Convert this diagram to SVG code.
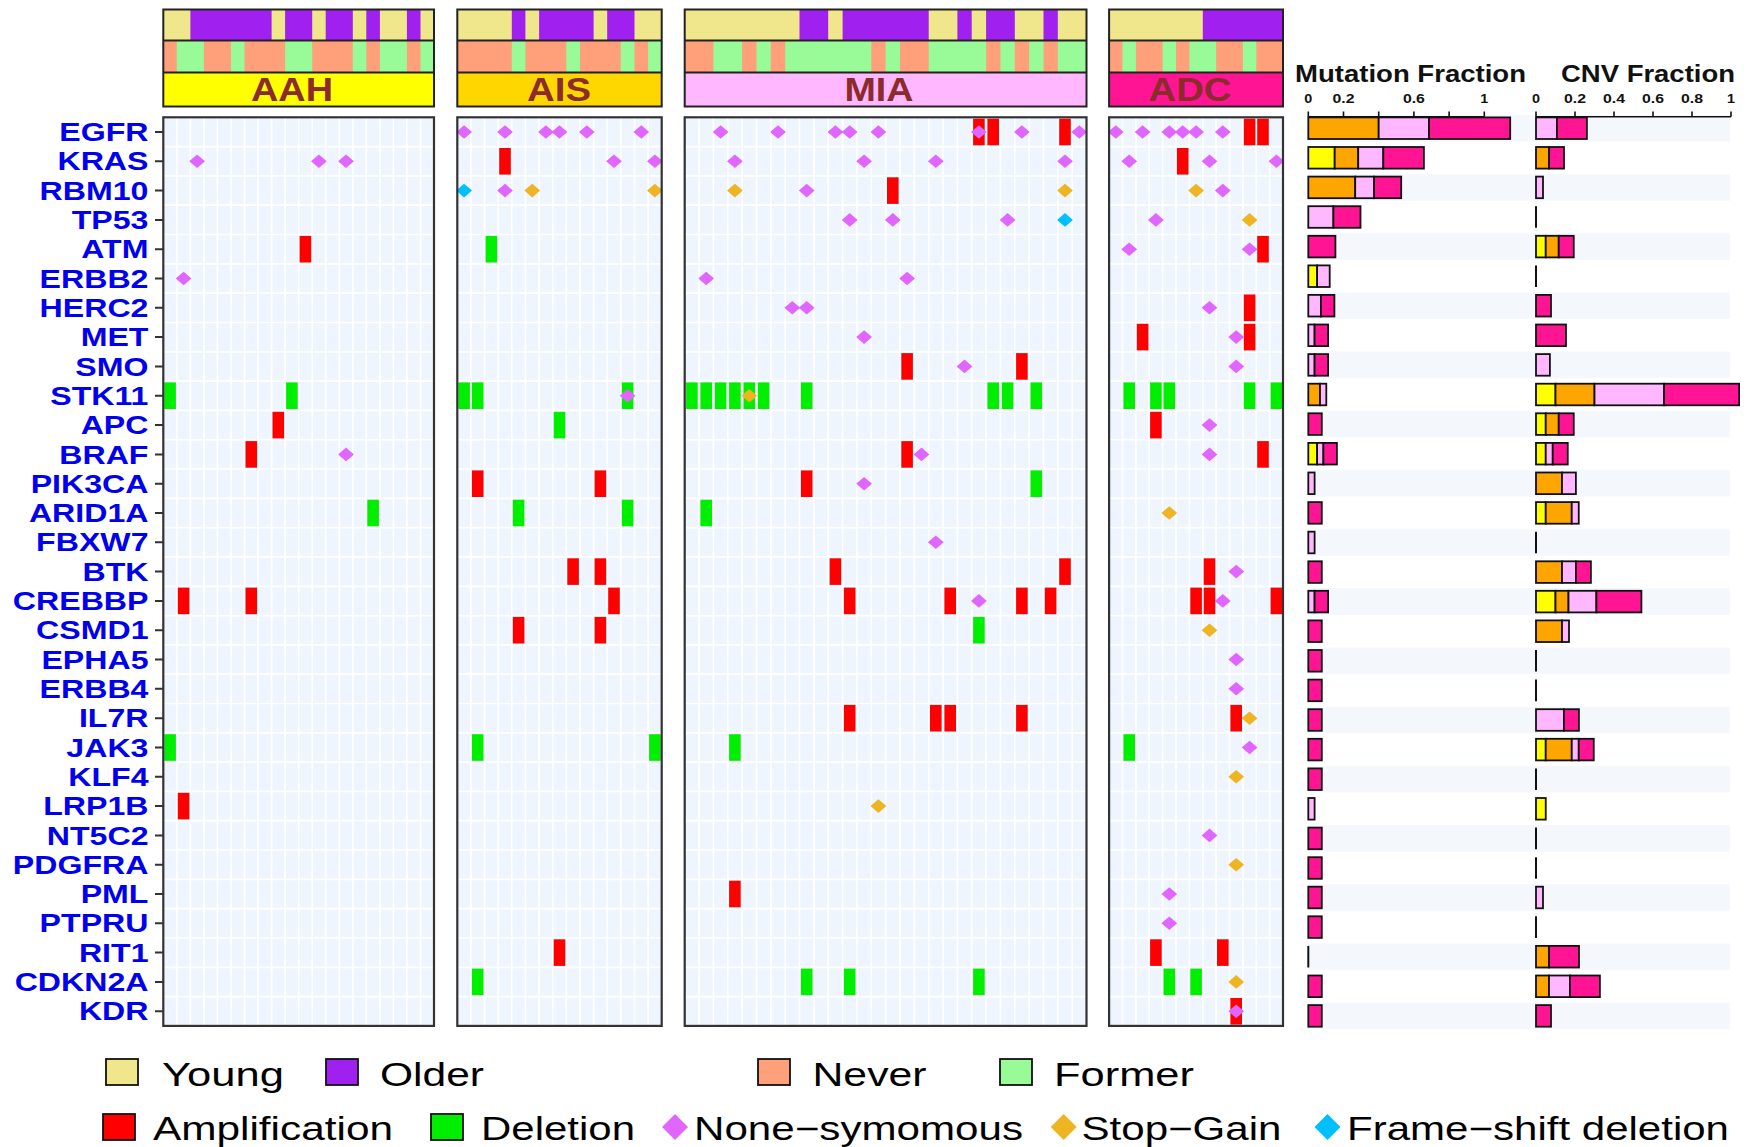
<svg xmlns="http://www.w3.org/2000/svg" xmlns:xlink="http://www.w3.org/1999/xlink" width="1750" height="1147" viewBox="0 0 1750 1147">
<style>
text{font-family:"Liberation Sans",Arial,sans-serif}
.young{fill:#F0E68C}.older{fill:#A020F0}.never{fill:#FFA07A}.former{fill:#98FB98}
.amp{fill:#FF0000}.del{fill:#00EE00}.ns{fill:#E066FF}.sg{fill:#EEB422}.fs{fill:#00BFFF}
.yl{fill:#FFFF00}.or{fill:#FFA500}.pk{fill:#FFB8FF}.dp{fill:#FF1493}
.outline{fill:none;stroke:#222;stroke-width:2}
.sep{fill:none;stroke:#222;stroke-width:2}
.plbl{font-size:32.5px;font-weight:bold;fill:#8B2B2B;text-anchor:middle}
.cellbg{fill:#EEF5FE}
.grid{fill:none;stroke:#FFFFFF;stroke-width:1.7}
.pborder{fill:none;stroke:#333;stroke-width:2.2}
.gene{font-size:25.5px;font-weight:bold;fill:#0000EE;text-anchor:end}
.bars rect{stroke:#111;stroke-width:1.8}
.band{fill:#F4F8FD;stroke:none}
.zero{stroke:#111;stroke-width:2}
.axis{fill:none;stroke:#111;stroke-width:1.6}
.tick{font-size:12.5px;font-weight:bold;fill:#111;text-anchor:middle}
.title{font-size:23.5px;font-weight:bold;fill:#111}
.leg{font-size:33px;fill:#000}
.lbox{stroke:#111;stroke-width:1.8}
</style>
<defs>
<rect id="c" x="-5.8" y="-13.3" width="11.6" height="26.6"/>
<polygon id="d" points="0,-6.8 7.9,0 0,6.8 -7.9,0"/>
</defs>
<rect x="0" y="0" width="1750" height="1147" fill="#FFFFFF"/>

<g id="header-AAH">
<rect x="163.3" y="9.5" width="270.7" height="31" class="young"/>
<rect x="190.4" y="9.5" width="81.2" height="31" class="older"/>
<rect x="285.1" y="9.5" width="27.1" height="31" class="older"/>
<rect x="325.7" y="9.5" width="27.1" height="31" class="older"/>
<rect x="366.3" y="9.5" width="13.6" height="31" class="older"/>
<rect x="406.9" y="9.5" width="13.6" height="31" class="older"/>
<rect x="163.3" y="40.5" width="270.7" height="32" class="never"/>
<rect x="176.8" y="40.5" width="27.1" height="32" class="former"/>
<rect x="231.0" y="40.5" width="13.5" height="32" class="former"/>
<rect x="285.1" y="40.5" width="27.1" height="32" class="former"/>
<rect x="352.8" y="40.5" width="13.5" height="32" class="former"/>
<rect x="379.9" y="40.5" width="27.0" height="32" class="former"/>
<rect x="420.5" y="40.5" width="13.5" height="32" class="former"/>
<rect x="163.3" y="72.5" width="270.7" height="34" fill="#FFFF00"/>
<text x="292" y="101" class="plbl" textLength="82" lengthAdjust="spacingAndGlyphs">AAH</text>
<rect x="163.3" y="9.5" width="270.7" height="97" class="outline"/>
<path d="M163.3 40.5H434M163.3 72.5H434" class="sep"/>
</g>
<g id="header-AIS">
<rect x="457.3" y="9.5" width="204.4" height="31" class="young"/>
<rect x="511.8" y="9.5" width="13.6" height="31" class="older"/>
<rect x="539.1" y="9.5" width="54.5" height="31" class="older"/>
<rect x="607.2" y="9.5" width="27.3" height="31" class="older"/>
<rect x="457.3" y="40.5" width="204.4" height="32" class="never"/>
<rect x="511.8" y="40.5" width="13.6" height="32" class="former"/>
<rect x="566.3" y="40.5" width="13.7" height="32" class="former"/>
<rect x="620.8" y="40.5" width="13.7" height="32" class="former"/>
<rect x="648.1" y="40.5" width="13.6" height="32" class="former"/>
<rect x="457.3" y="72.5" width="204.4" height="34" fill="#FFD700"/>
<text x="559" y="101" class="plbl" textLength="64" lengthAdjust="spacingAndGlyphs">AIS</text>
<rect x="457.3" y="9.5" width="204.4" height="97" class="outline"/>
<path d="M457.3 40.5H661.7M457.3 72.5H661.7" class="sep"/>
</g>
<g id="header-MIA">
<rect x="684.7" y="9.5" width="401.8" height="31" class="young"/>
<rect x="799.5" y="9.5" width="28.7" height="31" class="older"/>
<rect x="842.6" y="9.5" width="86.1" height="31" class="older"/>
<rect x="957.4" y="9.5" width="14.3" height="31" class="older"/>
<rect x="986.1" y="9.5" width="28.7" height="31" class="older"/>
<rect x="1043.5" y="9.5" width="14.3" height="31" class="older"/>
<rect x="684.7" y="40.5" width="401.8" height="32" class="never"/>
<rect x="713.4" y="40.5" width="28.7" height="32" class="former"/>
<rect x="756.5" y="40.5" width="14.3" height="32" class="former"/>
<rect x="785.2" y="40.5" width="86.1" height="32" class="former"/>
<rect x="885.6" y="40.5" width="14.4" height="32" class="former"/>
<rect x="928.7" y="40.5" width="57.4" height="32" class="former"/>
<rect x="1000.4" y="40.5" width="14.4" height="32" class="former"/>
<rect x="1029.1" y="40.5" width="14.4" height="32" class="former"/>
<rect x="1057.8" y="40.5" width="28.7" height="32" class="former"/>
<rect x="684.7" y="72.5" width="401.8" height="34" fill="#FFB8FF"/>
<text x="879" y="101" class="plbl" textLength="69" lengthAdjust="spacingAndGlyphs">MIA</text>
<rect x="684.7" y="9.5" width="401.8" height="97" class="outline"/>
<path d="M684.7 40.5H1086.5M684.7 72.5H1086.5" class="sep"/>
</g>
<g id="header-ADC">
<rect x="1109.1" y="9.5" width="173.9" height="31" class="young"/>
<rect x="1202.8" y="9.5" width="80.2" height="31" class="older"/>
<rect x="1109.1" y="40.5" width="173.9" height="32" class="never"/>
<rect x="1122.5" y="40.5" width="13.4" height="32" class="former"/>
<rect x="1162.6" y="40.5" width="13.4" height="32" class="former"/>
<rect x="1189.4" y="40.5" width="26.7" height="32" class="former"/>
<rect x="1242.9" y="40.5" width="13.4" height="32" class="former"/>
<rect x="1109.1" y="72.5" width="173.9" height="34" fill="#FF1493"/>
<text x="1190" y="101" class="plbl" textLength="83" lengthAdjust="spacingAndGlyphs">ADC</text>
<rect x="1109.1" y="9.5" width="173.9" height="97" class="outline"/>
<path d="M1109.1 40.5H1283M1109.1 72.5H1283" class="sep"/>
</g>

<g id="grid">
<rect x="163.3" y="117.3" width="270.7" height="908.6" class="cellbg"/>
<rect x="457.3" y="117.3" width="204.4" height="908.6" class="cellbg"/>
<rect x="684.7" y="117.3" width="401.8" height="908.6" class="cellbg"/>
<rect x="1109.1" y="117.3" width="173.9" height="908.6" class="cellbg"/>
<path class="grid" d="M176.8 117.3v908.6M190.4 117.3v908.6M203.9 117.3v908.6M217.4 117.3v908.6M231 117.3v908.6M244.5 117.3v908.6M258 117.3v908.6M271.6 117.3v908.6M285.1 117.3v908.6M298.7 117.3v908.6M312.2 117.3v908.6M325.7 117.3v908.6M339.3 117.3v908.6M352.8 117.3v908.6M366.3 117.3v908.6M379.9 117.3v908.6M393.4 117.3v908.6M406.9 117.3v908.6M420.5 117.3v908.6
M470.9 117.3v908.6M484.5 117.3v908.6M498.2 117.3v908.6M511.8 117.3v908.6M525.4 117.3v908.6M539.1 117.3v908.6M552.7 117.3v908.6M566.3 117.3v908.6M580 117.3v908.6M593.6 117.3v908.6M607.2 117.3v908.6M620.8 117.3v908.6M634.5 117.3v908.6M648.1 117.3v908.6
M699.1 117.3v908.6M713.4 117.3v908.6M727.8 117.3v908.6M742.1 117.3v908.6M756.5 117.3v908.6M770.8 117.3v908.6M785.2 117.3v908.6M799.5 117.3v908.6M813.9 117.3v908.6M828.2 117.3v908.6M842.6 117.3v908.6M856.9 117.3v908.6M871.3 117.3v908.6M885.6 117.3v908.6M900 117.3v908.6M914.3 117.3v908.6M928.7 117.3v908.6M943 117.3v908.6M957.4 117.3v908.6M971.7 117.3v908.6M986.1 117.3v908.6M1000.4 117.3v908.6M1014.8 117.3v908.6M1029.1 117.3v908.6M1043.5 117.3v908.6M1057.8 117.3v908.6M1072.2 117.3v908.6
M1122.5 117.3v908.6M1135.9 117.3v908.6M1149.2 117.3v908.6M1162.6 117.3v908.6M1176 117.3v908.6M1189.4 117.3v908.6M1202.8 117.3v908.6M1216.1 117.3v908.6M1229.5 117.3v908.6M1242.9 117.3v908.6M1256.3 117.3v908.6M1269.7 117.3v908.6
M163.3 146.6H1283M163.3 175.9H1283M163.3 205.2H1283M163.3 234.5H1283M163.3 263.9H1283M163.3 293.2H1283M163.3 322.5H1283M163.3 351.8H1283M163.3 381.1H1283M163.3 410.4H1283M163.3 439.7H1283M163.3 469H1283M163.3 498.3H1283M163.3 527.6H1283M163.3 556.9H1283M163.3 586.3H1283M163.3 615.6H1283M163.3 644.9H1283M163.3 674.2H1283M163.3 703.5H1283M163.3 732.8H1283M163.3 762.1H1283M163.3 791.4H1283M163.3 820.7H1283M163.3 850H1283M163.3 879.4H1283M163.3 908.7H1283M163.3 938H1283M163.3 967.3H1283M163.3 996.6H1283"/>
</g>

<g id="panel-AAH">
<use href="#c" x="305.4" y="249.2" class="amp"/>
<use href="#c" x="170.1" y="395.7" class="del"/>
<use href="#c" x="291.9" y="395.7" class="del"/>
<use href="#c" x="278.3" y="425.1" class="amp"/>
<use href="#c" x="251.3" y="454.4" class="amp"/>
<use href="#c" x="373.1" y="513.0" class="del"/>
<use href="#c" x="183.6" y="600.9" class="amp"/>
<use href="#c" x="251.3" y="600.9" class="amp"/>
<use href="#c" x="170.1" y="747.5" class="del"/>
<use href="#c" x="183.6" y="806.1" class="amp"/>
<use href="#d" x="197.1" y="161.3" class="ns"/>
<use href="#d" x="318.9" y="161.3" class="ns"/>
<use href="#d" x="346.0" y="161.3" class="ns"/>
<use href="#d" x="183.6" y="278.5" class="ns"/>
<use href="#d" x="346.0" y="454.4" class="ns"/>
<rect x="163.3" y="117.3" width="270.7" height="908.6" class="pborder"/>
</g>

<g id="panel-AIS">
<use href="#c" x="505.0" y="161.3" class="amp"/>
<use href="#c" x="491.4" y="249.2" class="del"/>
<use href="#c" x="464.1" y="395.7" class="del"/>
<use href="#c" x="477.7" y="395.7" class="del"/>
<use href="#c" x="627.6" y="395.7" class="del"/>
<use href="#c" x="559.5" y="425.1" class="del"/>
<use href="#c" x="477.7" y="483.7" class="amp"/>
<use href="#c" x="600.4" y="483.7" class="amp"/>
<use href="#c" x="518.6" y="513.0" class="del"/>
<use href="#c" x="627.6" y="513.0" class="del"/>
<use href="#c" x="573.1" y="571.6" class="amp"/>
<use href="#c" x="600.4" y="571.6" class="amp"/>
<use href="#c" x="614.0" y="600.9" class="amp"/>
<use href="#c" x="518.6" y="630.2" class="amp"/>
<use href="#c" x="600.4" y="630.2" class="amp"/>
<use href="#c" x="477.7" y="747.5" class="del"/>
<use href="#c" x="654.9" y="747.5" class="del"/>
<use href="#c" x="559.5" y="952.6" class="amp"/>
<use href="#c" x="477.7" y="981.9" class="del"/>
<use href="#d" x="464.1" y="132.0" class="ns"/>
<use href="#d" x="505.0" y="132.0" class="ns"/>
<use href="#d" x="545.9" y="132.0" class="ns"/>
<use href="#d" x="559.5" y="132.0" class="ns"/>
<use href="#d" x="586.8" y="132.0" class="ns"/>
<use href="#d" x="641.3" y="132.0" class="ns"/>
<use href="#d" x="614.0" y="161.3" class="ns"/>
<use href="#d" x="654.9" y="161.3" class="ns"/>
<use href="#d" x="464.1" y="190.6" class="fs"/>
<use href="#d" x="505.0" y="190.6" class="ns"/>
<use href="#d" x="532.2" y="190.6" class="sg"/>
<use href="#d" x="654.9" y="190.6" class="sg"/>
<use href="#d" x="627.6" y="395.7" class="ns"/>
<rect x="457.3" y="117.3" width="204.4" height="908.6" class="pborder"/>
</g>

<g id="panel-MIA">
<use href="#c" x="978.9" y="132.0" class="amp"/>
<use href="#c" x="993.2" y="132.0" class="amp"/>
<use href="#c" x="1065.0" y="132.0" class="amp"/>
<use href="#c" x="892.8" y="190.6" class="amp"/>
<use href="#c" x="907.1" y="366.4" class="amp"/>
<use href="#c" x="1021.9" y="366.4" class="amp"/>
<use href="#c" x="691.9" y="395.7" class="del"/>
<use href="#c" x="706.2" y="395.7" class="del"/>
<use href="#c" x="720.6" y="395.7" class="del"/>
<use href="#c" x="734.9" y="395.7" class="del"/>
<use href="#c" x="749.3" y="395.7" class="del"/>
<use href="#c" x="763.6" y="395.7" class="del"/>
<use href="#c" x="806.7" y="395.7" class="del"/>
<use href="#c" x="993.2" y="395.7" class="del"/>
<use href="#c" x="1007.6" y="395.7" class="del"/>
<use href="#c" x="1036.3" y="395.7" class="del"/>
<use href="#c" x="907.1" y="454.4" class="amp"/>
<use href="#c" x="806.7" y="483.7" class="amp"/>
<use href="#c" x="1036.3" y="483.7" class="del"/>
<use href="#c" x="706.2" y="513.0" class="del"/>
<use href="#c" x="835.4" y="571.6" class="amp"/>
<use href="#c" x="1065.0" y="571.6" class="amp"/>
<use href="#c" x="849.7" y="600.9" class="amp"/>
<use href="#c" x="950.2" y="600.9" class="amp"/>
<use href="#c" x="1021.9" y="600.9" class="amp"/>
<use href="#c" x="1050.6" y="600.9" class="amp"/>
<use href="#c" x="978.9" y="630.2" class="del"/>
<use href="#c" x="849.7" y="718.2" class="amp"/>
<use href="#c" x="935.8" y="718.2" class="amp"/>
<use href="#c" x="950.2" y="718.2" class="amp"/>
<use href="#c" x="1021.9" y="718.2" class="amp"/>
<use href="#c" x="734.9" y="747.5" class="del"/>
<use href="#c" x="734.9" y="894.0" class="amp"/>
<use href="#c" x="806.7" y="981.9" class="del"/>
<use href="#c" x="849.7" y="981.9" class="del"/>
<use href="#c" x="978.9" y="981.9" class="del"/>
<use href="#d" x="720.6" y="132.0" class="ns"/>
<use href="#d" x="778.0" y="132.0" class="ns"/>
<use href="#d" x="835.4" y="132.0" class="ns"/>
<use href="#d" x="849.7" y="132.0" class="ns"/>
<use href="#d" x="878.4" y="132.0" class="ns"/>
<use href="#d" x="978.9" y="132.0" class="ns"/>
<use href="#d" x="1021.9" y="132.0" class="ns"/>
<use href="#d" x="1079.3" y="132.0" class="ns"/>
<use href="#d" x="734.9" y="161.3" class="ns"/>
<use href="#d" x="864.1" y="161.3" class="ns"/>
<use href="#d" x="935.8" y="161.3" class="ns"/>
<use href="#d" x="1065.0" y="161.3" class="ns"/>
<use href="#d" x="734.9" y="190.6" class="sg"/>
<use href="#d" x="806.7" y="190.6" class="ns"/>
<use href="#d" x="1065.0" y="190.6" class="sg"/>
<use href="#d" x="849.7" y="219.9" class="ns"/>
<use href="#d" x="892.8" y="219.9" class="ns"/>
<use href="#d" x="1007.6" y="219.9" class="ns"/>
<use href="#d" x="1065.0" y="219.9" class="fs"/>
<use href="#d" x="706.2" y="278.5" class="ns"/>
<use href="#d" x="907.1" y="278.5" class="ns"/>
<use href="#d" x="792.3" y="307.8" class="ns"/>
<use href="#d" x="806.7" y="307.8" class="ns"/>
<use href="#d" x="864.1" y="337.1" class="ns"/>
<use href="#d" x="964.5" y="366.4" class="ns"/>
<use href="#d" x="749.3" y="395.7" class="sg"/>
<use href="#d" x="921.5" y="454.4" class="ns"/>
<use href="#d" x="864.1" y="483.7" class="ns"/>
<use href="#d" x="935.8" y="542.3" class="ns"/>
<use href="#d" x="978.9" y="600.9" class="ns"/>
<use href="#d" x="878.4" y="806.1" class="sg"/>
<rect x="684.7" y="117.3" width="401.8" height="908.6" class="pborder"/>
</g>

<g id="panel-ADC">
<use href="#c" x="1249.6" y="132.0" class="amp"/>
<use href="#c" x="1263.0" y="132.0" class="amp"/>
<use href="#c" x="1182.7" y="161.3" class="amp"/>
<use href="#c" x="1263.0" y="249.2" class="amp"/>
<use href="#c" x="1249.6" y="307.8" class="amp"/>
<use href="#c" x="1142.6" y="337.1" class="amp"/>
<use href="#c" x="1249.6" y="337.1" class="amp"/>
<use href="#c" x="1129.2" y="395.7" class="del"/>
<use href="#c" x="1155.9" y="395.7" class="del"/>
<use href="#c" x="1169.3" y="395.7" class="del"/>
<use href="#c" x="1249.6" y="395.7" class="del"/>
<use href="#c" x="1276.4" y="395.7" class="del"/>
<use href="#c" x="1155.9" y="425.1" class="amp"/>
<use href="#c" x="1263.0" y="454.4" class="amp"/>
<use href="#c" x="1209.5" y="571.6" class="amp"/>
<use href="#c" x="1196.1" y="600.9" class="amp"/>
<use href="#c" x="1209.5" y="600.9" class="amp"/>
<use href="#c" x="1276.4" y="600.9" class="amp"/>
<use href="#c" x="1236.2" y="718.2" class="amp"/>
<use href="#c" x="1129.2" y="747.5" class="del"/>
<use href="#c" x="1155.9" y="952.6" class="amp"/>
<use href="#c" x="1222.8" y="952.6" class="amp"/>
<use href="#c" x="1169.3" y="981.9" class="del"/>
<use href="#c" x="1196.1" y="981.9" class="del"/>
<use href="#c" x="1236.2" y="1011.3" class="amp"/>
<use href="#d" x="1115.8" y="132.0" class="ns"/>
<use href="#d" x="1142.6" y="132.0" class="ns"/>
<use href="#d" x="1169.3" y="132.0" class="ns"/>
<use href="#d" x="1182.7" y="132.0" class="ns"/>
<use href="#d" x="1196.1" y="132.0" class="ns"/>
<use href="#d" x="1222.8" y="132.0" class="ns"/>
<use href="#d" x="1129.2" y="161.3" class="ns"/>
<use href="#d" x="1209.5" y="161.3" class="ns"/>
<use href="#d" x="1276.4" y="161.3" class="ns"/>
<use href="#d" x="1196.1" y="190.6" class="sg"/>
<use href="#d" x="1222.8" y="190.6" class="ns"/>
<use href="#d" x="1155.9" y="219.9" class="ns"/>
<use href="#d" x="1249.6" y="219.9" class="sg"/>
<use href="#d" x="1129.2" y="249.2" class="ns"/>
<use href="#d" x="1249.6" y="249.2" class="ns"/>
<use href="#d" x="1209.5" y="307.8" class="ns"/>
<use href="#d" x="1236.2" y="337.1" class="ns"/>
<use href="#d" x="1236.2" y="366.4" class="ns"/>
<use href="#d" x="1209.5" y="425.1" class="ns"/>
<use href="#d" x="1209.5" y="454.4" class="ns"/>
<use href="#d" x="1169.3" y="513.0" class="sg"/>
<use href="#d" x="1236.2" y="571.6" class="ns"/>
<use href="#d" x="1222.8" y="600.9" class="ns"/>
<use href="#d" x="1209.5" y="630.2" class="sg"/>
<use href="#d" x="1236.2" y="659.5" class="ns"/>
<use href="#d" x="1236.2" y="688.8" class="ns"/>
<use href="#d" x="1249.6" y="718.2" class="sg"/>
<use href="#d" x="1249.6" y="747.5" class="ns"/>
<use href="#d" x="1236.2" y="776.8" class="sg"/>
<use href="#d" x="1209.5" y="835.4" class="ns"/>
<use href="#d" x="1236.2" y="864.7" class="sg"/>
<use href="#d" x="1169.3" y="894.0" class="ns"/>
<use href="#d" x="1169.3" y="923.3" class="ns"/>
<use href="#d" x="1236.2" y="981.9" class="sg"/>
<use href="#d" x="1236.2" y="1011.3" class="ns"/>
<rect x="1109.1" y="117.3" width="173.9" height="908.6" class="pborder"/>
</g>

<g id="genes">
<path stroke="#333" stroke-width="2" d="M155 132H163.3M155 161.3H163.3M155 190.6H163.3M155 219.9H163.3M155 249.2H163.3M155 278.5H163.3M155 307.8H163.3M155 337.1H163.3M155 366.4H163.3M155 395.7H163.3M155 425.1H163.3M155 454.4H163.3M155 483.7H163.3M155 513H163.3M155 542.3H163.3M155 571.6H163.3M155 600.9H163.3M155 630.2H163.3M155 659.5H163.3M155 688.8H163.3M155 718.2H163.3M155 747.5H163.3M155 776.8H163.3M155 806.1H163.3M155 835.4H163.3M155 864.7H163.3M155 894H163.3M155 923.3H163.3M155 952.6H163.3M155 981.9H163.3M155 1011.3H163.3"/>
<g transform="translate(148.5,0) scale(1.26,1)">
<text x="0" y="141.2" class="gene">EGFR</text>
<text x="0" y="170.5" class="gene">KRAS</text>
<text x="0" y="199.8" class="gene">RBM10</text>
<text x="0" y="229.1" class="gene">TP53</text>
<text x="0" y="258.4" class="gene">ATM</text>
<text x="0" y="287.7" class="gene">ERBB2</text>
<text x="0" y="317.0" class="gene">HERC2</text>
<text x="0" y="346.3" class="gene">MET</text>
<text x="0" y="375.6" class="gene">SMO</text>
<text x="0" y="404.9" class="gene">STK11</text>
<text x="0" y="434.3" class="gene">APC</text>
<text x="0" y="463.6" class="gene">BRAF</text>
<text x="0" y="492.9" class="gene">PIK3CA</text>
<text x="0" y="522.2" class="gene">ARID1A</text>
<text x="0" y="551.5" class="gene">FBXW7</text>
<text x="0" y="580.8" class="gene">BTK</text>
<text x="0" y="610.1" class="gene">CREBBP</text>
<text x="0" y="639.4" class="gene">CSMD1</text>
<text x="0" y="668.7" class="gene">EPHA5</text>
<text x="0" y="698.0" class="gene">ERBB4</text>
<text x="0" y="727.4" class="gene">IL7R</text>
<text x="0" y="756.7" class="gene">JAK3</text>
<text x="0" y="786.0" class="gene">KLF4</text>
<text x="0" y="815.3" class="gene">LRP1B</text>
<text x="0" y="844.6" class="gene">NT5C2</text>
<text x="0" y="873.9" class="gene">PDGFRA</text>
<text x="0" y="903.2" class="gene">PML</text>
<text x="0" y="932.5" class="gene">PTPRU</text>
<text x="0" y="961.8" class="gene">RIT1</text>
<text x="0" y="991.1" class="gene">CDKN2A</text>
<text x="0" y="1020.5" class="gene">KDR</text>
</g>
</g>

<g id="bands">
<rect x="1308" y="114.9" width="422" height="26.6" class="band"/>
<rect x="1308" y="174.1" width="422" height="26.6" class="band"/>
<rect x="1308" y="233.3" width="422" height="26.6" class="band"/>
<rect x="1308" y="292.4" width="422" height="26.6" class="band"/>
<rect x="1308" y="351.6" width="422" height="26.6" class="band"/>
<rect x="1308" y="410.8" width="422" height="26.6" class="band"/>
<rect x="1308" y="470.0" width="422" height="26.6" class="band"/>
<rect x="1308" y="529.2" width="422" height="26.6" class="band"/>
<rect x="1308" y="588.3" width="422" height="26.6" class="band"/>
<rect x="1308" y="647.5" width="422" height="26.6" class="band"/>
<rect x="1308" y="706.7" width="422" height="26.6" class="band"/>
<rect x="1308" y="765.9" width="422" height="26.6" class="band"/>
<rect x="1308" y="825.1" width="422" height="26.6" class="band"/>
<rect x="1308" y="884.2" width="422" height="26.6" class="band"/>
<rect x="1308" y="943.4" width="422" height="26.6" class="band"/>
<rect x="1308" y="1002.6" width="422" height="26.6" class="band"/>
</g>

<g id="mutation-fraction">
<text x="1295" y="81.7" class="title" textLength="231" lengthAdjust="spacingAndGlyphs">Mutation Fraction</text>
<text x="1308.3" y="102.5" class="tick" textLength="8" lengthAdjust="spacingAndGlyphs">0</text>
<text x="1343.5" y="102.5" class="tick" textLength="22" lengthAdjust="spacingAndGlyphs">0.2</text>
<text x="1413.9" y="102.5" class="tick" textLength="22" lengthAdjust="spacingAndGlyphs">0.6</text>
<text x="1484.3" y="102.5" class="tick" textLength="8" lengthAdjust="spacingAndGlyphs">1</text>
<path class="axis" d="M1308.3 116.7H1484.3M1308.3 111.5V116.7M1343.5 111.5V116.7M1378.7 111.5V116.7M1413.9 111.5V116.7M1449.1 111.5V116.7M1484.3 111.5V116.7"/>
<g class="bars">
<rect x="1308.3" y="117.4" width="70.4" height="21.6" class="or"/><rect x="1378.7" y="117.4" width="50.3" height="21.6" class="pk"/><rect x="1429.0" y="117.4" width="81.2" height="21.6" class="dp"/>
<rect x="1308.3" y="147.0" width="26.4" height="21.6" class="yl"/><rect x="1334.7" y="147.0" width="23.5" height="21.6" class="or"/><rect x="1358.2" y="147.0" width="25.1" height="21.6" class="pk"/><rect x="1383.3" y="147.0" width="40.6" height="21.6" class="dp"/>
<rect x="1308.3" y="176.6" width="46.9" height="21.6" class="or"/><rect x="1355.2" y="176.6" width="18.9" height="21.6" class="pk"/><rect x="1374.1" y="176.6" width="27.1" height="21.6" class="dp"/>
<rect x="1308.3" y="206.2" width="25.1" height="21.6" class="pk"/><rect x="1333.4" y="206.2" width="27.1" height="21.6" class="dp"/>
<rect x="1308.3" y="235.8" width="27.1" height="21.6" class="dp"/>
<rect x="1308.3" y="265.4" width="8.8" height="21.6" class="yl"/><rect x="1317.1" y="265.4" width="12.6" height="21.6" class="pk"/>
<rect x="1308.3" y="294.9" width="12.6" height="21.6" class="pk"/><rect x="1320.9" y="294.9" width="13.5" height="21.6" class="dp"/>
<rect x="1308.3" y="324.5" width="6.3" height="21.6" class="pk"/><rect x="1314.6" y="324.5" width="13.5" height="21.6" class="dp"/>
<rect x="1308.3" y="354.1" width="6.3" height="21.6" class="pk"/><rect x="1314.6" y="354.1" width="13.5" height="21.6" class="dp"/>
<rect x="1308.3" y="383.7" width="11.7" height="21.6" class="or"/><rect x="1320.0" y="383.7" width="6.3" height="21.6" class="pk"/>
<rect x="1308.3" y="413.3" width="13.5" height="21.6" class="dp"/>
<rect x="1308.3" y="442.9" width="8.8" height="21.6" class="yl"/><rect x="1317.1" y="442.9" width="6.3" height="21.6" class="pk"/><rect x="1323.4" y="442.9" width="13.5" height="21.6" class="dp"/>
<rect x="1308.3" y="472.5" width="6.3" height="21.6" class="pk"/>
<rect x="1308.3" y="502.1" width="13.5" height="21.6" class="dp"/>
<rect x="1308.3" y="531.7" width="6.3" height="21.6" class="pk"/>
<rect x="1308.3" y="561.3" width="13.5" height="21.6" class="dp"/>
<rect x="1308.3" y="590.8" width="6.3" height="21.6" class="pk"/><rect x="1314.6" y="590.8" width="13.5" height="21.6" class="dp"/>
<rect x="1308.3" y="620.4" width="13.5" height="21.6" class="dp"/>
<rect x="1308.3" y="650.0" width="13.5" height="21.6" class="dp"/>
<rect x="1308.3" y="679.6" width="13.5" height="21.6" class="dp"/>
<rect x="1308.3" y="709.2" width="13.5" height="21.6" class="dp"/>
<rect x="1308.3" y="738.8" width="13.5" height="21.6" class="dp"/>
<rect x="1308.3" y="768.4" width="13.5" height="21.6" class="dp"/>
<rect x="1308.3" y="798.0" width="6.3" height="21.6" class="pk"/>
<rect x="1308.3" y="827.6" width="13.5" height="21.6" class="dp"/>
<rect x="1308.3" y="857.2" width="13.5" height="21.6" class="dp"/>
<rect x="1308.3" y="886.7" width="13.5" height="21.6" class="dp"/>
<rect x="1308.3" y="916.3" width="13.5" height="21.6" class="dp"/>
<rect x="1308.3" y="975.5" width="13.5" height="21.6" class="dp"/>
<rect x="1308.3" y="1005.1" width="13.5" height="21.6" class="dp"/>
</g>
<path class="zero" d="M1308.3 945.9v21.6"/>
</g>

<g id="cnv-fraction">
<text x="1561" y="81.7" class="title" textLength="174" lengthAdjust="spacingAndGlyphs">CNV Fraction</text>
<text x="1536" y="102.5" class="tick" textLength="8" lengthAdjust="spacingAndGlyphs">0</text>
<text x="1575" y="102.5" class="tick" textLength="22" lengthAdjust="spacingAndGlyphs">0.2</text>
<text x="1614" y="102.5" class="tick" textLength="22" lengthAdjust="spacingAndGlyphs">0.4</text>
<text x="1653" y="102.5" class="tick" textLength="22" lengthAdjust="spacingAndGlyphs">0.6</text>
<text x="1692" y="102.5" class="tick" textLength="22" lengthAdjust="spacingAndGlyphs">0.8</text>
<text x="1731" y="102.5" class="tick" textLength="8" lengthAdjust="spacingAndGlyphs">1</text>
<path class="axis" d="M1536 116.7H1731M1536 111.5V116.7M1575 111.5V116.7M1614 111.5V116.7M1653 111.5V116.7M1692 111.5V116.7M1731 111.5V116.7"/>
<g class="bars">
<rect x="1536" y="117.4" width="20.9" height="21.6" class="pk"/><rect x="1556.9" y="117.4" width="30" height="21.6" class="dp"/>
<rect x="1536" y="147.0" width="13" height="21.6" class="or"/><rect x="1549" y="147.0" width="15" height="21.6" class="dp"/>
<rect x="1536" y="176.6" width="7" height="21.6" class="pk"/>
<rect x="1536" y="235.8" width="9.75" height="21.6" class="yl"/><rect x="1545.75" y="235.8" width="13" height="21.6" class="or"/><rect x="1558.75" y="235.8" width="15" height="21.6" class="dp"/>
<rect x="1536" y="294.9" width="15" height="21.6" class="dp"/>
<rect x="1536" y="324.5" width="30" height="21.6" class="dp"/>
<rect x="1536" y="354.1" width="13.9" height="21.6" class="pk"/>
<rect x="1536" y="383.7" width="19.5" height="21.6" class="yl"/><rect x="1555.5" y="383.7" width="39" height="21.6" class="or"/><rect x="1594.5" y="383.7" width="69.6" height="21.6" class="pk"/><rect x="1664.1" y="383.7" width="75" height="21.6" class="dp"/>
<rect x="1536" y="413.3" width="9.75" height="21.6" class="yl"/><rect x="1545.75" y="413.3" width="13" height="21.6" class="or"/><rect x="1558.75" y="413.3" width="15" height="21.6" class="dp"/>
<rect x="1536" y="442.9" width="9.75" height="21.6" class="yl"/><rect x="1545.75" y="442.9" width="7" height="21.6" class="pk"/><rect x="1552.75" y="442.9" width="15" height="21.6" class="dp"/>
<rect x="1536" y="472.5" width="26" height="21.6" class="or"/><rect x="1562" y="472.5" width="13.9" height="21.6" class="pk"/>
<rect x="1536" y="502.1" width="9.75" height="21.6" class="yl"/><rect x="1545.75" y="502.1" width="26" height="21.6" class="or"/><rect x="1571.75" y="502.1" width="7" height="21.6" class="pk"/>
<rect x="1536" y="561.3" width="26" height="21.6" class="or"/><rect x="1562" y="561.3" width="13.9" height="21.6" class="pk"/><rect x="1575.9" y="561.3" width="15" height="21.6" class="dp"/>
<rect x="1536" y="590.8" width="19.5" height="21.6" class="yl"/><rect x="1555.5" y="590.8" width="13" height="21.6" class="or"/><rect x="1568.5" y="590.8" width="27.9" height="21.6" class="pk"/><rect x="1596.4" y="590.8" width="45" height="21.6" class="dp"/>
<rect x="1536" y="620.4" width="26" height="21.6" class="or"/><rect x="1562" y="620.4" width="7" height="21.6" class="pk"/>
<rect x="1536" y="709.2" width="27.9" height="21.6" class="pk"/><rect x="1563.9" y="709.2" width="15" height="21.6" class="dp"/>
<rect x="1536" y="738.8" width="9.75" height="21.6" class="yl"/><rect x="1545.75" y="738.8" width="26" height="21.6" class="or"/><rect x="1571.75" y="738.8" width="7" height="21.6" class="pk"/><rect x="1578.75" y="738.8" width="15" height="21.6" class="dp"/>
<rect x="1536" y="798.0" width="9.75" height="21.6" class="yl"/>
<rect x="1536" y="886.7" width="7" height="21.6" class="pk"/>
<rect x="1536" y="945.9" width="13" height="21.6" class="or"/><rect x="1549" y="945.9" width="30" height="21.6" class="dp"/>
<rect x="1536" y="975.5" width="13" height="21.6" class="or"/><rect x="1549" y="975.5" width="20.9" height="21.6" class="pk"/><rect x="1569.9" y="975.5" width="30" height="21.6" class="dp"/>
<rect x="1536" y="1005.1" width="15" height="21.6" class="dp"/>
</g>
<path class="zero" d="M1536 206.2v21.6M1536 265.4v21.6M1536 531.7v21.6M1536 650v21.6M1536 679.6v21.6M1536 768.4v21.6M1536 827.6v21.6M1536 857.2v21.6M1536 916.3v21.6"/>
</g>

<g id="legend">
<rect x="106" y="1059" width="32" height="26" class="young lbox"/>
<text x="162" y="1086" class="leg" textLength="122" lengthAdjust="spacingAndGlyphs">Young</text>
<rect x="326" y="1059" width="32" height="26" class="older lbox"/>
<text x="380" y="1086" class="leg" textLength="104" lengthAdjust="spacingAndGlyphs">Older</text>
<rect x="758" y="1059" width="32" height="26" class="never lbox"/>
<text x="812.5" y="1086" class="leg" textLength="114" lengthAdjust="spacingAndGlyphs">Never</text>
<rect x="1000" y="1059" width="32" height="26" class="former lbox"/>
<text x="1054" y="1086" class="leg" textLength="140" lengthAdjust="spacingAndGlyphs">Former</text>
<rect x="103" y="1114" width="32" height="26" class="amp lbox"/>
<text x="153" y="1140" class="leg" textLength="240" lengthAdjust="spacingAndGlyphs">Amplification</text>
<rect x="431" y="1114" width="32" height="26" class="del lbox"/>
<text x="481" y="1140" class="leg" textLength="154" lengthAdjust="spacingAndGlyphs">Deletion</text>
<polygon points="675,1114 688,1127 675,1140 662,1127" class="ns"/>
<text x="694" y="1140" class="leg" textLength="329" lengthAdjust="spacingAndGlyphs">None−symomous</text>
<polygon points="1063.7,1114 1076.7,1127 1063.7,1140 1050.7,1127" class="sg"/>
<text x="1081.5" y="1140" class="leg" textLength="200" lengthAdjust="spacingAndGlyphs">Stop−Gain</text>
<polygon points="1327.5,1114 1340.5,1127 1327.5,1140 1314.5,1127" class="fs"/>
<text x="1347" y="1140" class="leg" textLength="382" lengthAdjust="spacingAndGlyphs">Frame−shift deletion</text>
</g>
</svg>
